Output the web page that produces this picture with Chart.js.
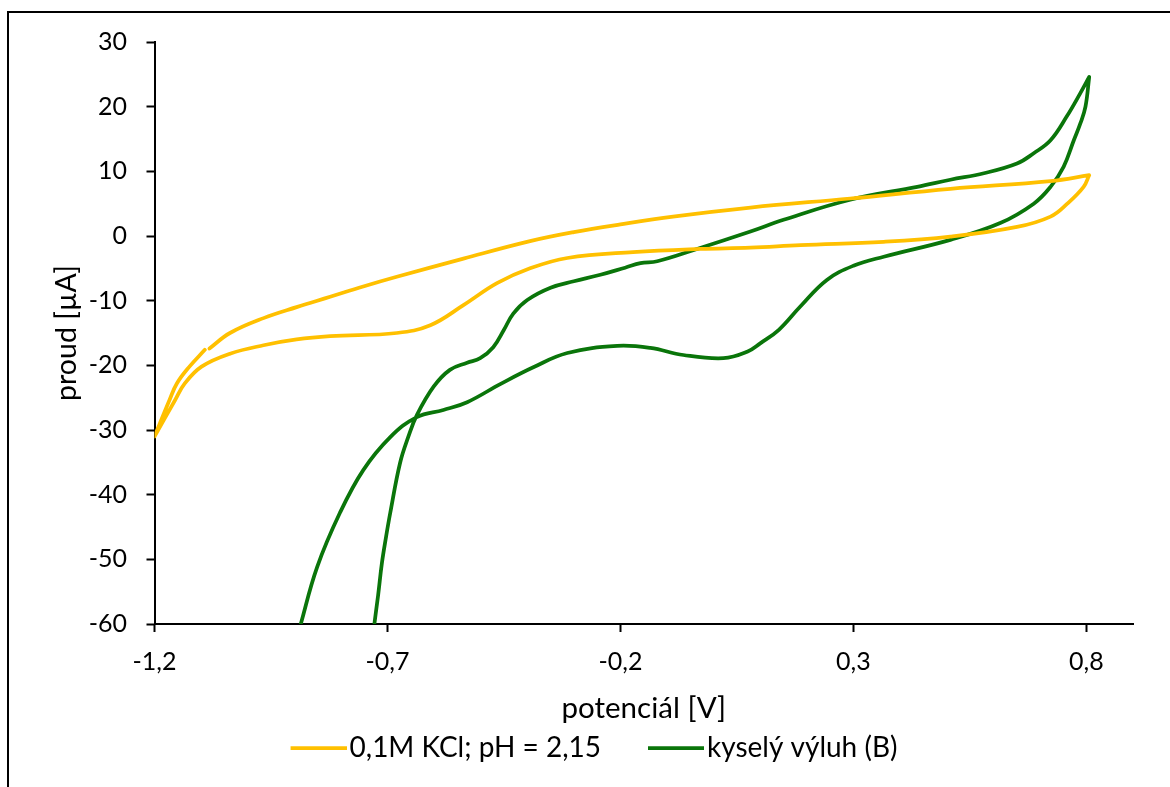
<!DOCTYPE html>
<html><head><meta charset="utf-8">
<script src="https://cdn.jsdelivr.net/npm/chart.js@4/dist/chart.umd.min.js"></script>
<style>
html,body{margin:0;padding:0;background:#fff;overflow:hidden;}
#wrap{position:relative;width:1170px;height:787px;overflow:hidden;background:#fff;}
#frame{position:absolute;left:7px;top:11px;width:1300px;height:900px;border:2px solid #000;box-sizing:border-box;}
canvas{position:absolute;left:0;top:0;}
</style></head><body>
<div id="wrap"><div id="frame"></div><canvas id="c" width="1170" height="787"></canvas></div>
<script>
// ---- data ----
const seriesNames = ['0,1M KCl; pH = 2,15', 'kyselý výluh (B)'];
const xTickValues = [-1.2, -0.7, -0.2, 0.3, 0.8];
const yTickValues = [-60, -50, -40, -30, -20, -10, 0, 10, 20, 30];

// switching potentials appear twice (end of one sweep, start of the next)
const kclPotential = [-1.082, -1.038, -0.966, -0.895, -0.823, -0.752, -0.680, -0.537, -0.394, -0.3, -0.2, -0.087, 0.079, 0.293, 0.508, 0.723, 0.806, 0.806,
  0.794, 0.759, 0.723, 0.651, 0.508, 0.365, 0.186, 0.079, -0.029, -0.173, -0.314, -0.394, -0.465, -0.537, -0.608, -0.680, -0.823, -0.895, -0.966, -1.038, -1.099, -1.135, -1.156, -1.2, -1.2,
  -1.168, -1.152, -1.125, -1.092];
const kclCurrent = [-17.4, -15.0, -12.7, -11.0, -9.4, -7.8, -6.3, -3.5, -0.8, 0.6, 1.8, 3.0, 4.4, 5.8, 7.3, 8.5, 9.4, 9.4,
  7.6, 5.0, 3.0, 1.4, -0.1, -0.9, -1.4, -1.8, -2.0, -2.5, -3.4, -5.0, -7.3, -10.7, -13.8, -15.0, -15.5, -16.0, -16.9, -18.2, -20.2, -22.8, -25.4, -31.0, -31.0,
  -25.4, -22.8, -20.2, -17.6];

const leachPotential = [-0.731, -0.729, -0.720, -0.712, -0.703, -0.694, -0.673, -0.655, -0.637, -0.601, -0.566, -0.529, -0.501, -0.473, -0.450, -0.430, -0.400, -0.350, -0.300, -0.243, -0.190, -0.157, -0.121, -0.044, 0.079, 0.150, 0.293, 0.437, 0.508, 0.580, 0.651, 0.687, 0.723, 0.758, 0.787, 0.806, 0.806,
  0.798, 0.787, 0.773, 0.751, 0.723, 0.687, 0.615, 0.508, 0.365, 0.300, 0.243, 0.186, 0.140, 0.100, 0.072, 0.021, -0.065, -0.136, -0.207, -0.314, -0.387, -0.458, -0.529, -0.580, -0.637, -0.694, -0.752, -0.802, -0.851, -0.888, -0.894];
const leachCurrent = [-62, -60.5, -55.5, -50.6, -46.5, -42.8, -35.1, -31.0, -27.7, -23.3, -20.7, -19.6, -18.9, -17.2, -14.5, -12.0, -9.9, -8.0, -7.0, -6.0, -4.9, -4.2, -3.9, -2.2, 0.7, 2.5, 5.6, 7.6, 8.7, 9.7, 11.2, 12.8, 14.8, 18.5, 22.1, 24.6, 24.6,
  20.0, 17.4, 14.8, 10.7, 7.6, 5.0, 2.0, -0.6, -3.2, -4.6, -6.8, -10.9, -14.5, -16.6, -17.9, -18.9, -18.4, -17.3, -17.0, -18.1, -20.3, -22.9, -25.7, -26.9, -28.0, -31.1, -36.2, -42.8, -51.2, -60.5, -62];

const seriesColors = ['#FFC000', '#0A750A'];

// ---- helpers ----
const toPoints = (xs, ys) => xs.map((x, i) => ({x: x, y: ys[i]}));
const comma = (v, d) => v.toFixed(d).replace('.', ',');
function legendLine(color) {
  const c = document.createElement('canvas');
  c.width = 106; c.height = 8;
  const g = c.getContext('2d');
  g.strokeStyle = color; g.lineWidth = 3.75;
  g.beginPath(); g.moveTo(50, 4); g.lineTo(106, 4); g.stroke();
  return c;
}
const legendImgs = seriesColors.map(legendLine);

Chart.defaults.color = '#000';
Chart.defaults.font.family = 'Lato';

new Chart(document.getElementById('c'), {
  type: 'line',
  data: {
    datasets: [
      {label: seriesNames[0], data: toPoints(kclPotential, kclCurrent), borderColor: seriesColors[0], backgroundColor: seriesColors[0]},
      {label: seriesNames[1], data: toPoints(leachPotential, leachCurrent), borderColor: seriesColors[1], backgroundColor: seriesColors[1]}
    ]
  },
  options: {
    responsive: false,
    animation: false,
    devicePixelRatio: 1,
    layout: {padding: {left: 16, right: 37, top: 42, bottom: 15}},
    elements: {
      line: {borderWidth: 3.75, tension: 0.4, fill: false, borderCapStyle: 'round', borderJoinStyle: 'round'},
      point: {radius: 0, hoverRadius: 0}
    },
    plugins: {
      tooltip: {enabled: false},
      legend: {
        position: 'bottom',
        labels: {
          usePointStyle: true,
          pointStyleWidth: 84,
          padding: 8,
          font: {family: 'Lato', size: 28},
          color: '#000',
          generateLabels: (chart) => Chart.defaults.plugins.legend.labels.generateLabels(chart)
            .map((it, i) => Object.assign({}, it, {pointStyle: legendImgs[i]}))
        }
      }
    },
    scales: {
      x: {
        type: 'linear',
        min: -1.2, max: 0.9,
        afterBuildTicks: (s) => { s.ticks = xTickValues.map(v => ({value: v})); },
        afterFit: (s) => { s.height = 102; },
        ticks: {callback: (v) => comma(v, 1), font: {family: 'Lato', size: 25}, color: '#000', padding: 15, maxRotation: 0, autoSkip: false},
        grid: {drawOnChartArea: false, drawTicks: true, tickLength: 8, tickColor: '#000', tickWidth: 2},
        border: {color: '#000', width: 2},
        title: {display: true, text: 'potenciál [V]', font: {family: 'Lato', size: 29.5}, color: '#000', padding: {top: 0, bottom: 0}}
      },
      y: {
        type: 'linear',
        min: -60, max: 30,
        afterBuildTicks: (s) => { s.ticks = yTickValues.map(v => ({value: v})); },
        afterFit: (s) => { s.width = 138.5; },
        ticks: {callback: (v) => String(v), font: {family: 'Lato', size: 25}, color: '#000', padding: 19.5},
        grid: {drawOnChartArea: false, drawTicks: true, tickLength: 8, tickColor: '#000', tickWidth: 2},
        border: {color: '#000', width: 2},
        title: {display: true, text: 'proud [µA]', font: {family: 'Lato', size: 28.5}, color: '#000', padding: {top: 34, bottom: 0}}
      }
    }
  }
});
</script>
</body></html>
